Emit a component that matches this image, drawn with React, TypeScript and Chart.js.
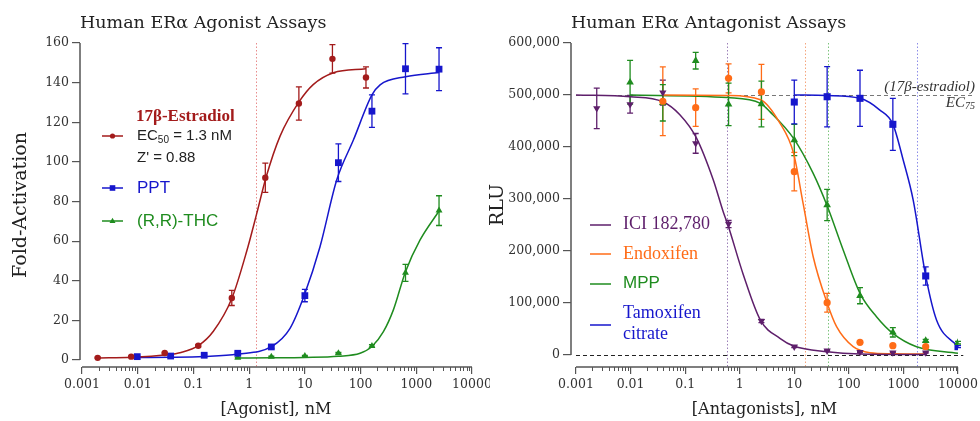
import React, { useEffect, useRef } from "react";
import { Chart, registerables } from "chart.js";
Chart.register(...registerables);

const SERIF = "'DejaVu Serif', serif";
const LSERIF = "'Liberation Serif', 'Times New Roman', serif";
const SANS = "'Liberation Sans', Arial, sans-serif";

// ---------- shared x axis ----------
const xDecades = [0.001, 0.01, 0.1, 1, 10, 100, 1000, 10000];
const xDecadeLabels = ["0.001", "0.01", "0.1", "1", "10", "100", "1000", "10000"];

// ---------- Agonist panel ----------
const agoTitle = "Human ERα Agonist Assays";
const agoXTitle = "[Agonist], nM";
const agoYTitle = "Fold-Activation";
const agoYTicks = [0, 20, 40, 60, 80, 100, 120, 140, 160];
const agoYLabels = ["0", "20", "40", "60", "80", "100", "120", "140", "160"];
const agoLegendLabels = ["17β-Estradiol", "PPT", "(R,R)-THC"];
const e2StatsLabels = ["EC", "50", " = 1.3 nM", "Z' = 0.88"];
const e2EC50 = [1.3];

const e2Conc = [0.00191, 0.00763, 0.0305, 0.122, 0.488, 1.95, 7.81, 31.25, 125];
const e2Mean = [1.1, 1.7, 3.5, 7.2, 31.3, 92, 129.5, 152, 142.6];
const e2Err = [0.3, 0.3, 0.4, 0.6, 3.8, 7.4, 8.4, 7.2, 5.3];
const e2FitX = [0.00191, 0.00763, 0.0175, 0.0305, 0.06, 0.122, 0.228, 0.488, 0.906, 1.37, 2.0, 3.59, 7.95, 14.1, 32.6, 125];
const e2FitY = [1.05, 1.4, 1.9, 2.5, 3.8, 7.2, 14.5, 31, 55, 74, 92, 113, 130.5, 139, 145, 147];

const pptConc = [0.0098, 0.039, 0.156, 0.625, 2.5, 10, 40, 160, 640, 2560];
const pptMean = [1.7, 2.0, 2.4, 3.4, 6.6, 32.5, 99.6, 125.6, 147, 146.8];
const pptErr = [0.4, 0.4, 0.5, 0.6, 0.8, 3.1, 9.5, 8.2, 12.7, 10.8];
const pptFitX = [0.0098, 0.039, 0.156, 0.625, 2.5, 5.42, 9.8, 18.7, 37.4, 74.3, 160, 224, 640, 2560];
const pptFitY = [1.3, 1.4, 1.8, 3.0, 6.7, 16, 32.8, 57.2, 91, 111, 133.8, 138.9, 143, 145.1];

const thcConc = [0.625, 2.5, 10, 40, 160, 640, 2560];
const thcMean = [1.2, 1.7, 2.0, 3.4, 7.1, 44, 75.4];
const thcErr = [0.3, 0.3, 0.3, 0.4, 0.6, 4.3, 7.5];
const thcFitX = [0.625, 2.5, 10, 40, 98, 160, 257, 388, 640, 1170, 2560];
const thcFitY = [1.0, 1.1, 1.3, 1.9, 3.4, 6.8, 14.3, 25.3, 44.6, 60.6, 75.2];

// ---------- Antagonist panel ----------
const antTitle = "Human ERα Antagonist Assays";
const antXTitle = "[Antagonists], nM";
const antYTitle = "RLU";
const antYTicks = [0, 100000, 200000, 300000, 400000, 500000, 600000];
const antYLabels = ["0", "100,000", "200,000", "300,000", "400,000", "500,000", "600,000"];
const antLegendLabels = ["ICI 182,780", "Endoxifen", "MPP", "Tamoxifen", "citrate"];
const antRefLabels = ["(17β-estradiol)", "EC", "75"];
const antRefLevel = [500000, 0];
const antRefEnd = [19000, 12500];
const antIC50 = [0.58, 15.6, 41, 1760];

const iciConc = [0.0024, 0.0098, 0.039, 0.156, 0.625, 2.5, 10, 40, 160, 640, 2560];
const iciMean = [474400, 482000, 504500, 407000, 252000, 65400, 16000, 8300, 5800, 4500, 4500];
const iciErr = [39000, 17000, 24000, 19000, 7000, 3000, 2000, 1000, 1000, 1000, 1000];
const iciFitX = [0.001, 0.0098, 0.039, 0.08, 0.16, 0.327, 0.5, 0.6, 1.16, 2.4, 5.45, 9.7, 40, 160, 2560];
const iciFitY = [500000, 496700, 487000, 462000, 418000, 337000, 275000, 252000, 155000, 67000, 32000, 17300, 6300, 2000, 1000];

const endoConc = [0.039, 0.156, 0.625, 2.5, 10, 40, 160, 640, 2560];
const endoMean = [488000, 475600, 532000, 506000, 352500, 100600, 24400, 18000, 16000];
const endoErr = [66000, 36000, 28000, 53000, 37000, 18000, 1500, 1500, 1500];
const endoFitX = [0.039, 0.6, 2.4, 5.45, 9.7, 14.6, 22.2, 40, 59.6, 120, 243, 620, 2560];
const endoFitY = [500000, 499000, 491000, 446000, 388000, 290000, 189000, 100000, 54400, 16000, 4500, 2500, 2000];

const mppConc = [0.0098, 0.039, 0.156, 0.625, 2.5, 10, 40, 160, 640, 2560, 10000];
const mppMean = [524400, 485000, 566000, 482000, 482700, 413500, 288500, 114000, 43600, 27500, 23700];
const mppErr = [42000, 35000, 16000, 41000, 44000, 30000, 30000, 15400, 9000, 2500, 2500];
const mppFitX = [0.0098, 0.6, 2.4, 3.57, 9.7, 22.2, 40, 78.7, 160, 321, 640, 1740, 10000];
const mppFitY = [500000, 495000, 484000, 468000, 416700, 349400, 287000, 202000, 118600, 73700, 41700, 16000, 3300];

const tamConc = [10, 40, 160, 640, 2560, 10000];
const tamMean = [486500, 496700, 493600, 443600, 152000, 16000];
const tamErr = [42000, 58000, 54000, 50000, 17600, 2000];
const tamFitX = [10, 40, 160, 370, 640, 990, 1510, 2560, 4040, 10000];
const tamFitY = [500000, 499000, 493600, 471000, 444000, 375000, 298000, 152000, 67300, 16000];

// ---------- colours ----------
const RED = "#a31b1b";
const BLUE = "#1616cc";
const GREEN = "#1f8c1f";
const PURPLE = "#5e1f6b";
const ORANGE = "#ff6c17";

const pts = (xs: number[], ys: number[]) => xs.map((x, i) => ({ x, y: ys[i] }));

function pointSet(label: string, xs: number[], ys: number[], err: number[], color: string, style: string, r: number, rot = 0) {
  return {
    label, data: pts(xs, ys), errors: err, showLine: false, borderColor: color, backgroundColor: color,
    pointStyle: style, pointRadius: r, pointRotation: rot, pointBorderWidth: 0, order: 0,
  };
}
function fitSet(label: string, xs: number[], ys: number[], color: string) {
  return {
    label, data: pts(xs, ys), borderColor: color, backgroundColor: color, borderWidth: 1.5,
    pointRadius: 0, cubicInterpolationMode: "monotone", fill: false, order: 1,
  };
}

function drawMarker(ctx: CanvasRenderingContext2D, style: string, x: number, y: number, s: number, color: string) {
  ctx.fillStyle = color;
  ctx.beginPath();
  if (style === "circle") ctx.arc(x, y, s, 0, Math.PI * 2);
  else if (style === "rect") ctx.rect(x - s, y - s, 2 * s, 2 * s);
  else { ctx.moveTo(x, y - s * 1.1); ctx.lineTo(x + s, y + s * 0.7); ctx.lineTo(x - s, y + s * 0.7); ctx.closePath(); }
  ctx.fill();
}

function legendLine(ctx: CanvasRenderingContext2D, x0: number, x1: number, y: number, color: string) {
  ctx.strokeStyle = color; ctx.lineWidth = 1.5; ctx.setLineDash([]);
  ctx.beginPath(); ctx.moveTo(x0, y); ctx.lineTo(x1, y); ctx.stroke();
}
function text(ctx: CanvasRenderingContext2D, s: string, x: number, y: number, font: string, color: string, align: CanvasTextAlign = "left") {
  ctx.font = font; ctx.fillStyle = color; ctx.textAlign = align; ctx.textBaseline = "middle";
  ctx.fillText(s, x, y);
  return ctx.measureText(s).width;
}

function drawAgoLegend(ctx: CanvasRenderingContext2D) {
  text(ctx, agoLegendLabels[0], 136, 117, `bold 17px ${LSERIF}`, RED);
  legendLine(ctx, 102, 123, 136, RED); drawMarker(ctx, "circle", 112.5, 136, 2.6, RED);
  let x = 137;
  x += text(ctx, e2StatsLabels[0], x, 136, `15px ${SANS}`, "#222");
  x += text(ctx, e2StatsLabels[1], x, 140, `10px ${SANS}`, "#222");
  text(ctx, e2StatsLabels[2], x, 136, `15px ${SANS}`, "#222");
  text(ctx, e2StatsLabels[3], 137, 158, `15px ${SANS}`, "#222");
  legendLine(ctx, 102, 123, 188, BLUE); drawMarker(ctx, "rect", 112.5, 188, 2.8, BLUE);
  text(ctx, agoLegendLabels[1], 137, 188, `17px ${SANS}`, BLUE);
  legendLine(ctx, 102, 123, 221, GREEN); drawMarker(ctx, "tri", 112.5, 221, 3, GREEN);
  text(ctx, agoLegendLabels[2], 137, 221, `17px ${SANS}`, GREEN);
}

function drawAntLegend(ctx: CanvasRenderingContext2D, chart: any) {
  const o = -484;
  legendLine(ctx, 590 + o, 611 + o, 225, PURPLE);
  text(ctx, antLegendLabels[0], 623 + o, 224, `18px ${LSERIF}`, PURPLE);
  legendLine(ctx, 590 + o, 611 + o, 254, ORANGE);
  text(ctx, antLegendLabels[1], 623 + o, 254, `18px ${LSERIF}`, ORANGE);
  legendLine(ctx, 590 + o, 611 + o, 284, GREEN);
  text(ctx, antLegendLabels[2], 623 + o, 283, `17px ${SANS}`, GREEN);
  legendLine(ctx, 590 + o, 611 + o, 325, BLUE);
  text(ctx, antLegendLabels[3], 623 + o, 313, `18px ${LSERIF}`, BLUE);
  text(ctx, antLegendLabels[4], 623 + o, 334, `18px ${LSERIF}`, BLUE);
  // reference annotation
  const ys = chart.scales.y;
  const yRef = ys.getPixelForValue(antRefLevel[0]);
  const xr = chart.chartArea.right + 17;
  text(ctx, antRefLabels[0], xr, yRef - 8, `italic 15px ${LSERIF}`, "#333", "right");
  const w75 = text(ctx, antRefLabels[2], xr, yRef + 11, `italic 10px ${LSERIF}`, "#333", "right");
  text(ctx, antRefLabels[1], xr - w75, yRef + 8, `italic 15px ${LSERIF}`, "#333", "right");
}

type Panel = {
  title: string; xTitle: string; yTitle: string; xMin: number; yMin: number;
  yTicks: number[]; yLabels: string[]; yWidth: number; padRight: number; yTitlePad: number;
  datasets: any[]; vLines: { x: number; color: string }[]; hLines: { y: number; to: number; color: string }[];
  legend: (ctx: CanvasRenderingContext2D, chart: any) => void;
};

function isDecade(v: number) {
  const l = Math.log10(v);
  return Math.abs(l - Math.round(l)) < 1e-6;
}

function buildChart(canvas: HTMLCanvasElement, p: Panel) {
  const decor = {
    id: "decor",
    beforeDatasetsDraw(chart: any) {
      const { ctx, chartArea: ca } = chart;
      const xs = chart.scales.x, ys = chart.scales.y;
      ctx.save();
      p.vLines.forEach((v) => {
        const px = Math.round(xs.getPixelForValue(v.x)) + 0.5;
        ctx.strokeStyle = v.color; ctx.lineWidth = 1; ctx.setLineDash([1.5, 2]);
        ctx.beginPath(); ctx.moveTo(px, ca.top); ctx.lineTo(px, ca.bottom); ctx.stroke();
      });
      p.hLines.forEach((h) => {
        const py = Math.round(ys.getPixelForValue(h.y)) + 0.5;
        ctx.strokeStyle = h.color; ctx.lineWidth = 1; ctx.setLineDash([4, 3]);
        ctx.beginPath(); ctx.moveTo(xs.getPixelForValue(xDecades[0]), py); ctx.lineTo(xs.getPixelForValue(h.to), py); ctx.stroke();
      });
      ctx.setLineDash([]);
      chart.data.datasets.forEach((ds: any, i: number) => {
        if (!ds.errors) return;
        const meta = chart.getDatasetMeta(i);
        ctx.strokeStyle = ds.borderColor; ctx.lineWidth = 1.3;
        meta.data.forEach((el: any, j: number) => {
          const e = ds.errors[j];
          if (!e) return;
          const m = ds.data[j].y;
          const t = ys.getPixelForValue(m + e), b = ys.getPixelForValue(m - e);
          const x = el.x;
          ctx.beginPath();
          ctx.moveTo(x, t); ctx.lineTo(x, b);
          ctx.moveTo(x - 3, t); ctx.lineTo(x + 3, t);
          ctx.moveTo(x - 3, b); ctx.lineTo(x + 3, b);
          ctx.stroke();
        });
      });
      ctx.restore();
    },
    afterDraw(chart: any) {
      const { ctx, chartArea: ca } = chart;
      const xs = chart.scales.x, ys = chart.scales.y;
      ctx.save();
      ctx.strokeStyle = "#555"; ctx.lineWidth = 1.5; ctx.setLineDash([]);
      ctx.beginPath();
      ctx.moveTo(xs.getPixelForValue(xDecades[0]), ca.bottom);
      ctx.lineTo(xs.getPixelForValue(xDecades[xDecades.length - 1]), ca.bottom);
      ctx.moveTo(ca.left, ys.getPixelForValue(p.yTicks[p.yTicks.length - 1]));
      ctx.lineTo(ca.left, ys.getPixelForValue(p.yTicks[0]));
      ctx.stroke();
      ctx.lineWidth = 1;
      ctx.beginPath();
      xs.ticks.forEach((t: any) => {
        if (t.major) return;
        const px = Math.round(xs.getPixelForValue(t.value)) + 0.5;
        ctx.moveTo(px, ca.bottom); ctx.lineTo(px, ca.bottom + 4);
      });
      ctx.stroke();
      p.legend(ctx, chart);
      ctx.restore();
    },
  };

  return new Chart(canvas, {
    type: "line",
    data: { datasets: p.datasets },
    plugins: [decor],
    options: {
      animation: false, responsive: false, devicePixelRatio: 1,
      layout: { padding: { left: 0, top: 0, right: p.padRight, bottom: 0 } },
      plugins: {
        legend: { display: false }, tooltip: { enabled: false },
        title: {
          display: true, text: p.title, align: "start", fullSize: false, color: "#222",
          font: { family: SERIF, size: 17.5, weight: "normal", lineHeight: 1.2 },
          padding: { top: 13, bottom: 9 },
        },
      },
      scales: {
        x: {
          type: "logarithmic", min: p.xMin, max: xDecades[xDecades.length - 1],
          border: { display: false },
          grid: {
            display: true, drawOnChartArea: false, drawTicks: true, tickLength: 7, lineWidth: 1.2,
            tickColor: (c: any) => (c.tick && c.tick.major ? "#555" : "rgba(0,0,0,0)"),
          },
          afterBuildTicks: (scale: any) => {
            const t: any[] = [];
            for (let d = 0; d < xDecades.length - 1; d++) {
              for (let k = 1; k <= 9; k++) t.push({ value: xDecades[d] * k, major: k === 1 });
            }
            t.push({ value: xDecades[xDecades.length - 1], major: true });
            scale.ticks = t;
          },
          afterFit: (scale: any) => { scale.height = 54; scale.paddingLeft = 0; scale.paddingRight = 0; },
          ticks: {
            autoSkip: false, maxRotation: 0, minRotation: 0, padding: 3, color: "#333",
            font: { family: SERIF, size: 12.5 },
            callback: (v: any, i: number, ticks: any[]) => {
              const val = ticks[i].value;
              if (!isDecade(val)) return "";
              const idx = xDecades.findIndex((d) => Math.abs(Math.log10(d) - Math.log10(val)) < 1e-6);
              return idx >= 0 ? xDecadeLabels[idx] : "";
            },
          },
          title: {
            display: true, text: p.xTitle, color: "#222",
            font: { family: SERIF, size: 16, lineHeight: 1.2 }, padding: { top: 0, bottom: 2 },
          },
        },
        y: {
          type: "linear", min: p.yMin, max: p.yTicks[p.yTicks.length - 1],
          border: { display: false },
          grid: { display: true, drawOnChartArea: false, drawTicks: true, tickLength: 8, tickColor: "#555", lineWidth: 1.2 },
          afterBuildTicks: (scale: any) => { scale.ticks = p.yTicks.map((v) => ({ value: v })); },
          afterFit: (scale: any) => { scale.width = p.yWidth; scale.paddingTop = 0; scale.paddingBottom = 0; },
          ticks: {
            padding: 3, color: "#333", font: { family: SERIF, size: 12.5 },
            callback: (v: any, i: number) => p.yLabels[i] ?? "",
          },
          title: {
            display: true, text: p.yTitle, color: "#222",
            font: { family: SERIF, size: 19, lineHeight: 1.2 }, padding: { top: p.yTitlePad, bottom: 0 },
          },
        },
      },
    } as any,
  });
}

const agoPanel: Panel = {
  title: agoTitle, xTitle: agoXTitle, yTitle: agoYTitle, xMin: 0.00092, yMin: -3.53,
  yTicks: agoYTicks, yLabels: agoYLabels, yWidth: 80, padRight: 18, yTitlePad: 10,
  datasets: [
    pointSet("17β-Estradiol", e2Conc, e2Mean, e2Err, RED, "circle", 3.2),
    pointSet("PPT", pptConc, pptMean, pptErr, BLUE, "rect", 4.8),
    pointSet("(R,R)-THC", thcConc, thcMean, thcErr, GREEN, "triangle", 4),
    fitSet("17β-Estradiol fit", e2FitX, e2FitY, RED),
    fitSet("PPT fit", pptFitX, pptFitY, BLUE),
    fitSet("(R,R)-THC fit", thcFitX, thcFitY, GREEN),
  ],
  vLines: e2EC50.map((x) => ({ x, color: "#e88c8c" })),
  hLines: [],
  legend: (ctx) => drawAgoLegend(ctx),
};

const antVColors = ["#9c80b8", "#f5a57c", "#7cc47c", "#8c8ce8"];
const antPanel: Panel = {
  title: antTitle, xTitle: antXTitle, yTitle: antYTitle, xMin: 0.00081, yMin: -23077,
  yTicks: antYTicks, yLabels: antYLabels, yWidth: 87, padRight: 22, yTitlePad: 3,
  datasets: [
    pointSet("ICI 182,780", iciConc, iciMean, iciErr, PURPLE, "triangle", 4.2, 180),
    pointSet("Endoxifen", endoConc, endoMean, endoErr, ORANGE, "circle", 3.6),
    pointSet("MPP", mppConc, mppMean, mppErr, GREEN, "triangle", 4.4),
    pointSet("Tamoxifen citrate", tamConc, tamMean, tamErr, BLUE, "rect", 5),
    fitSet("ICI fit", iciFitX, iciFitY, PURPLE),
    fitSet("Endoxifen fit", endoFitX, endoFitY, ORANGE),
    fitSet("MPP fit", mppFitX, mppFitY, GREEN),
    fitSet("Tamoxifen fit", tamFitX, tamFitY, BLUE),
  ],
  vLines: antIC50.map((x, i) => ({ x, color: antVColors[i] })),
  hLines: [
    { y: antRefLevel[0], to: antRefEnd[0], color: "#777" },
    { y: antRefLevel[1], to: antRefEnd[1], color: "#222" },
  ],
  legend: (ctx, chart) => drawAntLegend(ctx, chart),
};

function ChartCanvas({ panel, left, width }: { panel: Panel; left: number; width: number }) {
  const ref = useRef<HTMLCanvasElement | null>(null);
  useEffect(() => {
    if (!ref.current) return;
    const c = buildChart(ref.current, panel);
    return () => c.destroy();
  }, [panel]);
  return (
    <canvas ref={ref} width={width} height={421}
      style={{ position: "absolute", left, top: 0, width, height: 421, display: "block" }} />
  );
}

export default function App() {
  return (
    <div style={{ position: "fixed", left: 0, top: 0, width: 980, height: 421, background: "#fff", overflow: "hidden" }}>
      <ChartCanvas panel={agoPanel} left={0} width={490} />
      <ChartCanvas panel={antPanel} left={484} width={496} />
    </div>
  );
}
